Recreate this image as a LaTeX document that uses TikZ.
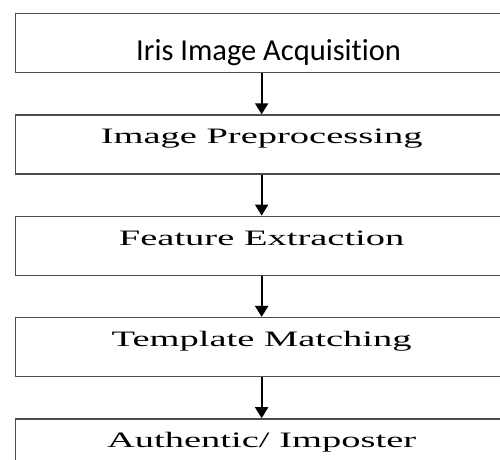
\documentclass[tikz,border=0pt]{standalone}
\usepackage{fontspec}
\usepackage{graphicx}
\setmainfont{Liberation Serif}
\newfontfamily\calibri[Ligatures=NoCommon]{Carlito}
\usetikzlibrary{arrows.meta,positioning}
\colorlet{boxgray}{black!70}
\tikzstyle{stage}=[draw=boxgray,line width=1.3pt,inner sep=0pt,minimum
width=492pt,text height=29pt,text depth=30pt,font=\fontsize{22}{26}\selectfont]
\tikzstyle{flow}=[->,line width=2pt]
\newcommand{\wide}[1]{\scalebox{1.75}[1]{#1}}

\begin{document}
\begin{tikzpicture}[>={Triangle[length=11pt,width=13pt]}, node distance=41pt]
  \useasboundingbox (0,0) rectangle (500pt,-459pt);
  \clip (0,0) rectangle (500pt,-459pt);

  \node[stage, anchor=north west, text height=47pt, text depth=12pt,
    font=\calibri\fontsize{30.5}{34}\selectfont] (1) at (15pt,-13pt)
    {\hspace*{14pt}Iris Image Acquisition};
  \node[stage, below=of 1] (2) {\wide{Image Preprocessing}};
  \node[stage, below=of 2] (3) {\wide{Feature Extraction}};
  \node[stage, below=of 3] (4) {\wide{Template Matching}};
  \node[stage, below=of 4] (5) {\wide{Authentic/ Imposter}};

  \draw[flow] (1) -- (2);
  \draw[flow] (2) -- (3);
  \draw[flow] (3) -- (4);
  \draw[flow] (4) -- (5);
\end{tikzpicture}
\end{document}
